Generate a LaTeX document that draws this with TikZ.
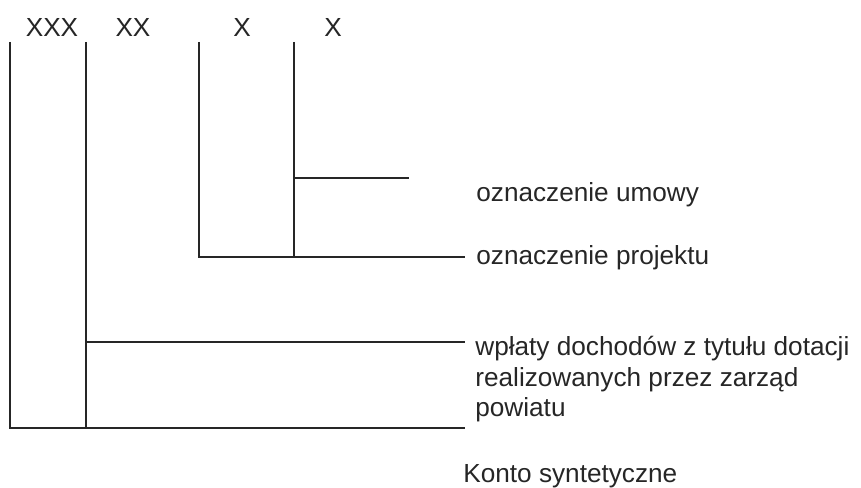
\documentclass[tikz,border=0pt]{standalone}
\usepackage{fontspec}
\setmainfont{Liberation Sans}
\usepackage{xcolor}
\usepackage{tikz}
\usetikzlibrary{positioning}

\begin{document}
\begin{tikzpicture}[font=\fontsize{14.9}{17.4}\selectfont,
  lin/.style={line width=1.2pt, draw=black!85},
  lbl/.style={anchor=base west, inner sep=0pt, align=left, text=black!85},
  code/.style={anchor=base, inner sep=0pt, text=black!85}]
\useasboundingbox (0,0) rectangle (17.22,-9.76);
% --- code digits ---
\node[code] (c1) at (1.04,-0.74) {XXX};
\node[code] (c2) at (2.66,-0.74) {XX};
\node[code] (c3) at (4.84,-0.74) {X};
\node[code] (c4) at (6.66,-0.74) {X};
% --- branch points ---
\coordinate (v1t) at (0.20,-0.84);  \coordinate (v1b) at (0.20,-8.56);
\coordinate (v2t) at (1.72,-0.84);  \coordinate (v2m) at (1.72,-6.84);
\coordinate (v2b) at (1.72,-8.56);
\coordinate (v3t) at (3.98,-0.84);  \coordinate (v3b) at (3.98,-5.14);
\coordinate (v4t) at (5.88,-0.84);  \coordinate (v4m) at (5.88,-3.56);
\coordinate (v4b) at (5.88,-5.14);
\coordinate (e1) at (8.18,-3.56);
\coordinate (e2) at (9.30,-5.14);
\coordinate (e3) at (9.30,-6.84);
\coordinate (e4) at (9.30,-8.56);
% --- descriptions ---
\node[lbl] (umowa) at (9.52,-4.04) {oznaczenie umowy};
\node[lbl] (projekt) at (9.52,-5.30) {oznaczenie projektu};
\node[lbl] (wplaty) at (9.50,-8.34)
  {wpłaty dochodów z tytułu dotacji\\realizowanych przez zarząd\\powiatu};
\node[lbl] (konto) at (9.26,-9.66) {Konto syntetyczne};
% --- tree ---
\draw[lin] (v1t) -- (v1b) -- (e4);
\draw[lin] (v2t) -- (v2b);
\draw[lin] (v2m) -- (e3);
\draw[lin] (v3t) -- (v3b) -- (e2);
\draw[lin] (v4t) -- (v4b);
\draw[lin] (v4m) -- (e1);
\end{tikzpicture}
\end{document}
